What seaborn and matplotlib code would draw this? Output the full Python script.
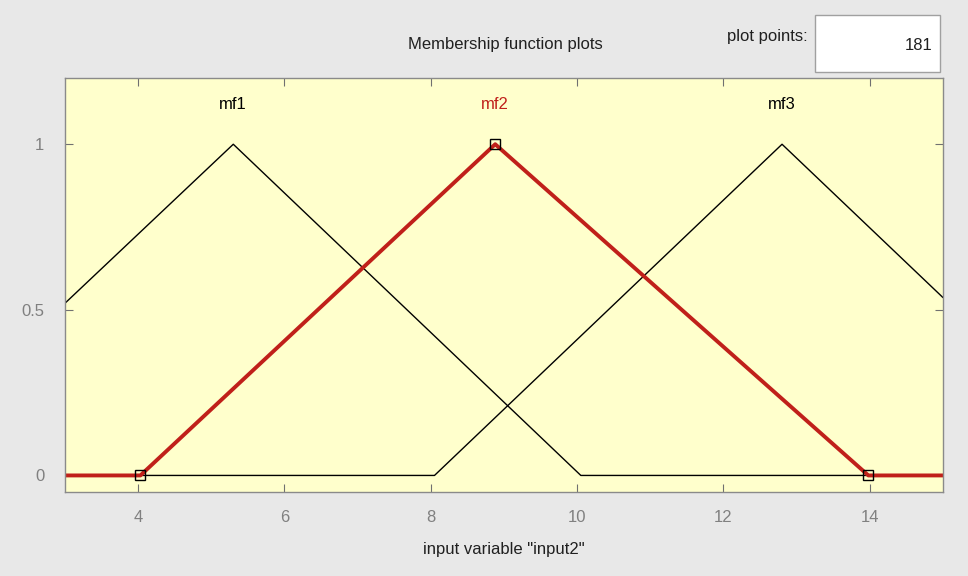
import matplotlib
matplotlib.use('Agg')
import matplotlib.pyplot as plt
from matplotlib.patches import Rectangle
import seaborn as sns

sns.set_style("white")
plt.rcParams['font.family'] = ['Liberation Sans Narrow', 'Liberation Sans', 'DejaVu Sans']

# polyline vertices of the three triangular membership functions
mf1_x = [3.0, 5.3, 10.05, 15.0]
mf1_y = [0.52, 1.0, 0.0, 0.0]
mf2_x = [3.0, 4.03, 8.88, 13.98, 15.0]
mf2_y = [0.0, 0.0, 1.0, 0.0, 0.0]
mf3_x = [3.0, 8.05, 12.8, 15.0]
mf3_y = [0.0, 0.0, 1.0, 0.537]

# selected mf vertex handles
handle_x = [4.03, 8.88, 13.98]
handle_y = [0.0, 1.0, 0.0]

mf_names = ['mf1', 'mf2', 'mf3']
mf_peaks = [5.3, 8.88, 12.8]
mf_colors = ['black', '#c0201a', 'black']

xticks = [4, 6, 8, 10, 12, 14]
yticks = [0, 0.5, 1]
ytick_labels = ['0', '0.5', '1']

fig = plt.figure(figsize=(9.68, 5.76), dpi=100, facecolor='#e8e8e8')
ax = fig.add_axes([65/968, 1 - 492/576, (943-65)/968, (492-78)/576])
ax.set_facecolor('#ffffcc')

sns.lineplot(x=mf1_x, y=mf1_y, ax=ax, color='black', linewidth=1.0, estimator=None, sort=False)
sns.lineplot(x=mf3_x, y=mf3_y, ax=ax, color='black', linewidth=1.0, estimator=None, sort=False)
sns.lineplot(x=mf2_x, y=mf2_y, ax=ax, color='#c0201a', linewidth=2.8, estimator=None, sort=False)
ax.plot(handle_x, handle_y, linestyle='none', marker='s', markersize=7,
        markerfacecolor='none', markeredgecolor='black', markeredgewidth=1.0, zorder=5)

for name, px, c in zip(mf_names, mf_peaks, mf_colors):
    ax.text(px, 1.12, name, color=c, ha='center', va='center', fontsize=12)

ax.set_xlim(3, 15)
ax.set_ylim(-0.05, 1.2)
ax.set_xticks(xticks)
ax.set_yticks(yticks)
ax.set_yticklabels(ytick_labels)
ax.tick_params(direction='in', length=6, width=0.8, color='#707070',
               labelcolor='#808080', labelsize=12, top=True, right=True,
               bottom=True, left=True)
ax.tick_params(axis='x', pad=13)
ax.tick_params(axis='y', pad=15)
for s in ax.spines.values():
    s.set_color('#8a8a8a')
    s.set_linewidth(1.0)
ax.set_xlabel('input variable "input2"', fontsize=12, color='#202020', labelpad=12)
ax.set_ylabel('')

fig.text(505/968, 1 - 45/576, 'Membership function plots', ha='center', va='center',
         fontsize=12, color='#202020')
fig.text(808/968, 1 - 36/576, 'plot points:', ha='right', va='center',
         fontsize=12, color='#202020')
box = Rectangle((815/968, 1 - 72/576), 125/968, 57/576, transform=fig.transFigure,
                facecolor='white', edgecolor='#a0a0a0', linewidth=1.0)
fig.patches.append(box)
fig.text(932/968, 1 - 45/576, '181', ha='right', va='center', fontsize=12, color='#202020')

plt.savefig('out.png', dpi=100, facecolor=fig.get_facecolor())
